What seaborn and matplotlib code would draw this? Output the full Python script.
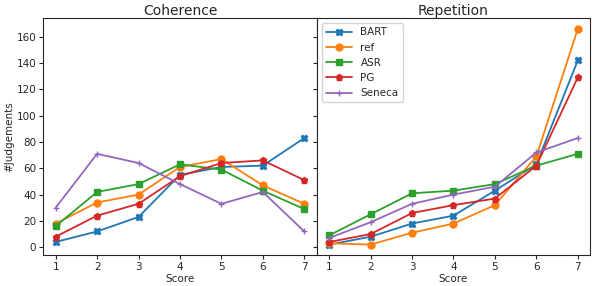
import pandas as pd
import matplotlib
matplotlib.use("Agg")
import matplotlib.pyplot as plt
import seaborn as sns

# scores on the x axis
scores = [1, 2, 3, 4, 5, 6, 7]
systems = ["BART", "ref", "ASR", "PG", "Seneca"]
yticks = [0, 20, 40, 60, 80, 100, 120, 140, 160]

# number of judgements per score
coherence = {
    "BART":   [4, 12, 23, 55, 61, 62, 83],
    "ref":    [18, 34, 40, 61, 67, 47, 33],
    "ASR":    [16, 42, 48, 63, 59, 43, 29],
    "PG":     [8, 24, 33, 54, 64, 66, 51],
    "Seneca": [30, 71, 64, 48, 33, 42, 12],
}
repetition = {
    "BART":   [2, 8, 18, 24, 43, 63, 142],
    "ref":    [3, 2, 11, 18, 32, 69, 166],
    "ASR":    [9, 25, 41, 43, 48, 62, 71],
    "PG":     [4, 10, 26, 32, 37, 62, 129],
    "Seneca": [7, 19, 33, 40, 46, 72, 83],
}

sns.set_style("ticks")
plt.rcParams["font.family"] = ["DejaVu Sans"]

colors = dict(zip(systems, sns.color_palette("tab10", 5)))
markers = {"BART": "X", "ref": "o", "ASR": "s", "PG": "p", "Seneca": "+"}

fig, axes = plt.subplots(1, 2, figsize=(5.92, 2.86), dpi=100, sharey=True)
fig.subplots_adjust(left=0.073, right=0.997, top=0.937, bottom=0.107, wspace=0)

for ax, title, table in [(axes[0], "Coherence", coherence),
                         (axes[1], "Repetition", repetition)]:
    for name in systems:
        df = pd.DataFrame({"Score": scores, "#Judgements": table[name]})
        sns.lineplot(data=df, x="Score", y="#Judgements", color=colors[name],
                     marker=markers[name], markersize=5, markeredgewidth=1,
                     markeredgecolor=colors[name], linewidth=1.3,
                     label=name, ax=ax, legend=False)
    ax.set_title(title, fontsize=10, pad=2)
    ax.set_xticks(scores)
    ax.set_yticks(yticks)
    ax.tick_params(labelsize=7.5, length=3, pad=2)
    ax.set_xlabel("Score", fontsize=7.5, labelpad=1)

axes[0].set_ylabel("#Judgements", fontsize=7.5, labelpad=2)
axes[1].set_ylabel("")
axes[1].legend(loc="upper left", fontsize=7.5, handlelength=2.5)

plt.savefig("out.png", dpi=100)
